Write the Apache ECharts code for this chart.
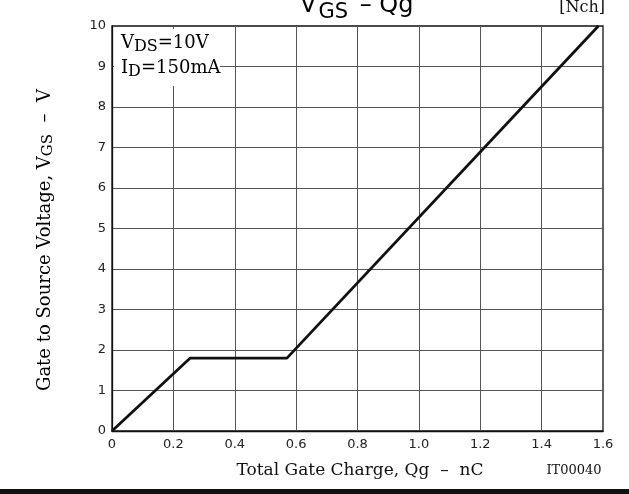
<!DOCTYPE html>
<html>
<head>
<meta charset="utf-8">
<script src="https://cdn.jsdelivr.net/npm/echarts@6/dist/echarts.min.js"></script>
<style>
  html, body { margin: 0; padding: 0; background: #fff; }
  #chart { width: 629px; height: 494px; }
</style>
</head>
<body>
<div id="chart"></div>
<script>
// Gate charge curve for the N-channel device (VDS = 10 V, ID = 150 mA)
const gateCharge = [0, 0.255, 0.57, 1.585];      // Qg, nC
const gateVoltage = [0, 1.8, 1.8, 10];           // VGS, V

const xTickLabels = ['0', '0.2', '0.4', '0.6', '0.8', '1.0', '1.2', '1.4', '1.6'];
const yTickLabels = ['0', '1', '2', '3', '4', '5', '6', '7', '8', '9', '10'];

const SANS = 'DejaVu Sans';
const SERIF = 'DejaVu Serif';

const chart = echarts.init(document.getElementById('chart'), null, { renderer: 'canvas' });

const curve = gateCharge.map((q, i) => [q, gateVoltage[i]]);

chart.setOption({
  animation: false,
  backgroundColor: '#fff',
  grid: {
    left: 112, right: 26, top: 26, bottom: 63,
    show: true, borderColor: '#111', borderWidth: 1.3, backgroundColor: 'transparent'
  },
  xAxis: {
    type: 'value', min: 0, max: 1.6, interval: 0.2,
    axisLine: { show: true, lineStyle: { color: '#111', width: 1.3 } },
    axisTick: { show: false },
    axisLabel: {
      margin: 7, color: '#222', fontFamily: SANS, fontSize: 13,
      formatter: v => xTickLabels[Math.round(v / 0.2)]
    },
    splitLine: { show: true, showMinLine: false, showMaxLine: false, lineStyle: { color: '#555', width: 1 } }
  },
  yAxis: {
    type: 'value', min: 0, max: 10, interval: 1,
    axisLine: { show: true, lineStyle: { color: '#111', width: 1.3 } },
    axisTick: { show: false },
    axisLabel: {
      margin: 6, color: '#222', fontFamily: SANS, fontSize: 13,
      formatter: v => yTickLabels[Math.round(v)]
    },
    splitLine: { show: true, showMinLine: false, showMaxLine: false, lineStyle: { color: '#555', width: 1 } }
  },
  series: [{
    type: 'line',
    data: curve,
    showSymbol: false,
    symbol: 'none',
    lineStyle: { color: '#111', width: 2.8 },
    z: 5
  }],
  graphic: [
    // title
    {
      type: 'text', x: 300, y: 6, z: 20,
      style: {
        text: '{m|V}{s|GS}{m| – Qg}',
        align: 'left', verticalAlign: 'middle',
        rich: {
          m: { fontFamily: SANS, fontSize: 24, lineHeight: 24, color: '#111' },
          s: { fontFamily: SANS, fontSize: 21, lineHeight: 24, color: '#111', padding: [13, 4, 0, 2] }
        }
      }
    },
    {
      type: 'text', x: 605, y: 8, z: 20,
      style: { text: '[Nch]', align: 'right', verticalAlign: 'middle', fontFamily: SERIF, fontSize: 16, fill: '#111' }
    },
    // condition box
    {
      type: 'rect', z: 10,
      shape: { x: 114, y: 29, width: 106, height: 57 },
      style: { fill: '#fff' }
    },
    {
      type: 'text', x: 121, y: 43, z: 20,
      style: {
        text: '{m|V}{s|DS}{m|=10V}',
        align: 'left', verticalAlign: 'middle',
        rich: {
          m: { fontFamily: SERIF, fontSize: 18, lineHeight: 22, color: '#111' },
          s: { fontFamily: SERIF, fontSize: 16, lineHeight: 22, color: '#111', padding: [8, 0, 0, 0] }
        }
      }
    },
    {
      type: 'text', x: 121, y: 68, z: 20,
      style: {
        text: '{m|I}{s|D}{m|=150mA}',
        align: 'left', verticalAlign: 'middle',
        rich: {
          m: { fontFamily: SERIF, fontSize: 18, lineHeight: 22, color: '#111' },
          s: { fontFamily: SERIF, fontSize: 16, lineHeight: 22, color: '#111', padding: [8, 0, 0, 0] }
        }
      }
    },
    // y-axis title
    {
      type: 'text', x: 45, y: 240, rotation: Math.PI / 2, z: 20,
      style: {
        text: '{m|Gate to Source Voltage, V}{s|GS}{m|  –  V}',
        align: 'center', verticalAlign: 'middle',
        rich: {
          m: { fontFamily: SERIF, fontSize: 18, lineHeight: 22, color: '#111' },
          s: { fontFamily: SERIF, fontSize: 15, lineHeight: 22, color: '#111', padding: [7, 0, 0, 0] }
        }
      }
    },
    // x-axis title
    {
      type: 'text', x: 360, y: 471, z: 20,
      style: { text: 'Total Gate Charge, Qg  –  nC', align: 'center', verticalAlign: 'middle', fontFamily: SERIF, fontSize: 17, fill: '#111' }
    },
    {
      type: 'text', x: 574, y: 471, z: 20,
      style: { text: 'IT00040', align: 'center', verticalAlign: 'middle', fontFamily: SERIF, fontSize: 13, fill: '#111' }
    },
    // rule along the bottom edge
    {
      type: 'rect', z: 20,
      shape: { x: 0, y: 489, width: 629, height: 5 },
      style: { fill: '#111' }
    }
  ]
});
</script>
</body>
</html>
